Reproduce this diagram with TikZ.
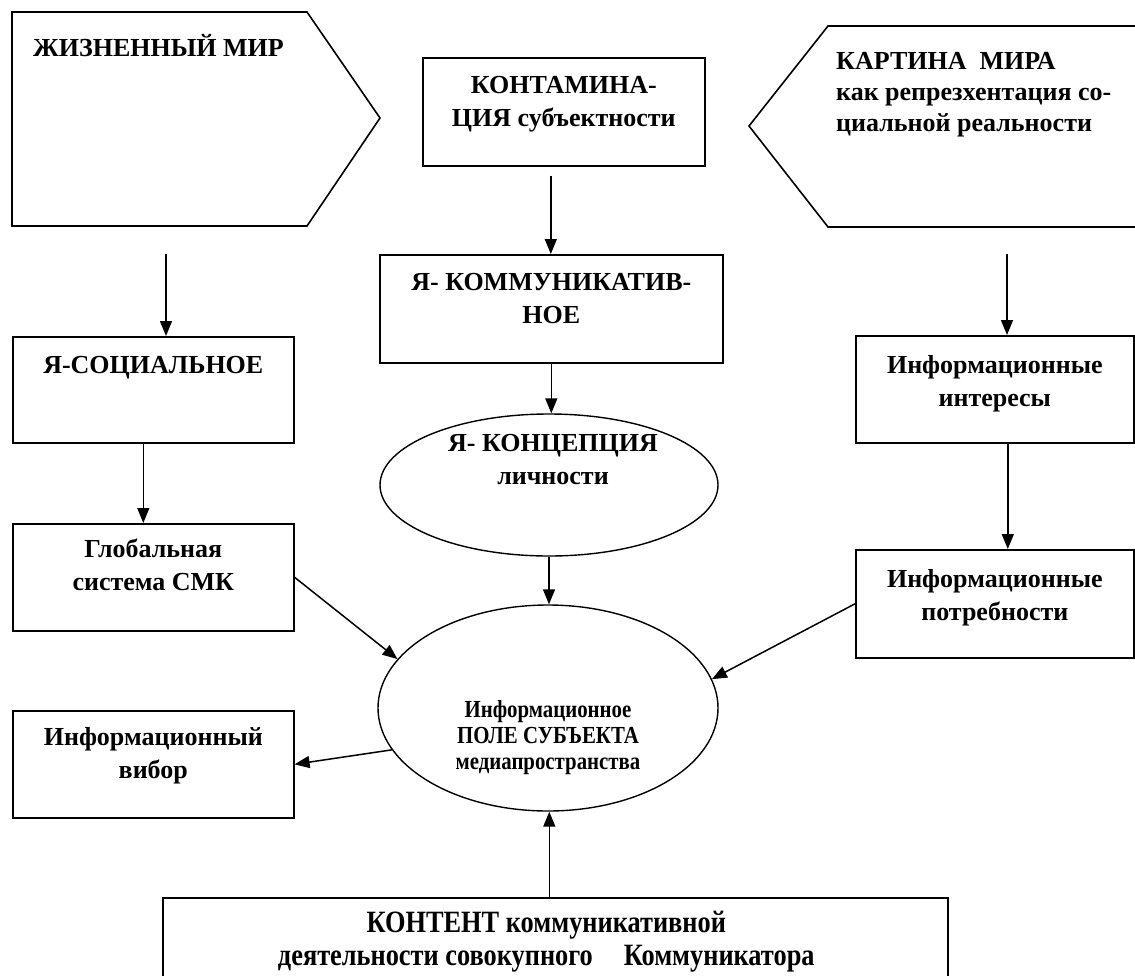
\documentclass[tikz,border=0pt]{standalone}
\usepackage{fontspec}
\setmainfont{Liberation Serif}
\newfontfamily\condfont[FakeStretch=0.85]{Liberation Serif}
\usetikzlibrary{positioning,shapes.geometric,arrows.meta}
\tikzset{
  box/.style={draw,line width=1.6pt,anchor=north west,inner sep=0pt},
  oval/.style={draw,line width=1.4pt,ellipse,inner sep=0pt},
  txt/.style={align=center,inner sep=0pt,font=\bfseries\fontsize{26}{33}\selectfont},
  cond/.style={align=center,inner sep=0pt,font=\condfont\bfseries\fontsize{24.5}{26}\selectfont},
  arr/.style={line width=1.5pt,-{Triangle[length=15pt,width=12pt]}},
  edge/.style={line width=1.6pt,line join=miter}
}
\begin{document}
\begin{tikzpicture}[x=1pt,y=-1pt]
\useasboundingbox (0,0) rectangle (1135,975);
\draw[edge] (12,12) -- (307,12) -- (380,118) -- (307,226) -- (12,226) -- cycle;
\draw[edge] (1150,26) -- (828,26) -- (749,126) -- (828,227) -- (1150,227);
\coordinate (lifeout) at (166,254);
\coordinate (pictout) at (1007,254);
\node[txt,anchor=north west] (lifetxt) at (33,34) {ЖИЗНЕННЫЙ МИР};
\node[txt,align=left,anchor=north west,font=\bfseries\fontsize{26}{31}\selectfont] (picttxt) at (836,52) {КАРТИНА\ \ МИРА\\как репрезхентация со-\\циальной реальности};

\node[box,minimum width=282pt,minimum height=108pt] (contam) at (422,57) {};
\node[box,minimum width=343pt,minimum height=108pt] (comm) at (379,254) {};
\node[box,minimum width=281pt,minimum height=106pt] (social) at (12,336) {};
\node[box,minimum width=281pt,minimum height=107pt] (global) at (12,523) {};
\node[box,minimum width=281pt,minimum height=107pt] (choice) at (12,710) {};
\node[box,minimum width=278pt,minimum height=107pt] (interests) at (855,335) {};
\node[box,minimum width=278pt,minimum height=108pt] (needs) at (855,549) {};
\node[box,minimum width=785pt,minimum height=120pt] (content) at (162,897) {};
\node[oval,minimum width=338pt,minimum height=142pt] (concept) at (549,485) {};
\node[oval,minimum width=340pt,minimum height=206pt] (field) at (548,708) {};

\node[txt,below=19pt of contam.north] (contamtxt) {КОНТАМИНА-\\ЦИЯ субъектности};
\node[txt,below=19pt of comm.north] (commtxt) {Я- КОММУНИКАТИВ-\\НОЕ};
\node[txt,below=20pt of social.north] (socialtxt) {Я-СОЦИАЛЬНОЕ};
\node[txt,below=16pt of global.north] (globaltxt) {Глобальная\\система СМК};
\node[txt,below=17pt of choice.north] (choicetxt) {Информационный\\вибор};
\node[txt,below=20pt of interests.north] (intereststxt) {Информационные\\интересы};
\node[txt,below=20pt of needs.north] (needstxt) {Информационные\\потребности};
\node[txt] (concepttxt) at (553,460) {Я- КОНЦЕПЦИЯ\\личности};
\node[cond] (fieldtxt) at (548,738) {Информационное\\ПОЛЕ СУБЪЕКТА\\медиапространства};
\node[cond,below=14pt of content.north,xshift=-9pt,font=\condfont\bfseries\fontsize{31}{33}\selectfont] (contenttxt) {КОНТЕНТ коммуникативной\\деятельности совокупного\quad Коммуникатора};

\draw[arr] (lifeout) -- (lifeout |- social.north);
\draw[arr] ([xshift=-10pt]social.south) -- ([xshift=-10pt]social.south |- global.north);
\draw[arr] (global.east) -- (field.162);
\draw[arr] (field.195) -- (choice.east);
\draw[arr,shorten <=9pt] ([xshift=-13pt]contam.south) -- ([xshift=-13pt]contam.south |- comm.north);
\draw[arr] (comm.south) -- (comm.south |- concept.north);
\draw[arr] (concept.south) -- (concept.south |- field.north);
\draw[arr] ([xshift=-6pt]content.north) -- ([xshift=-6pt]content.north |- field.south);
\draw[arr] (pictout) -- (pictout |- interests.north);
\draw[arr] ([xshift=13pt]interests.south) -- ([xshift=13pt]interests.south |- needs.north);
\draw[arr] (needs.west) -- (field.10);
\end{tikzpicture}
\end{document}
